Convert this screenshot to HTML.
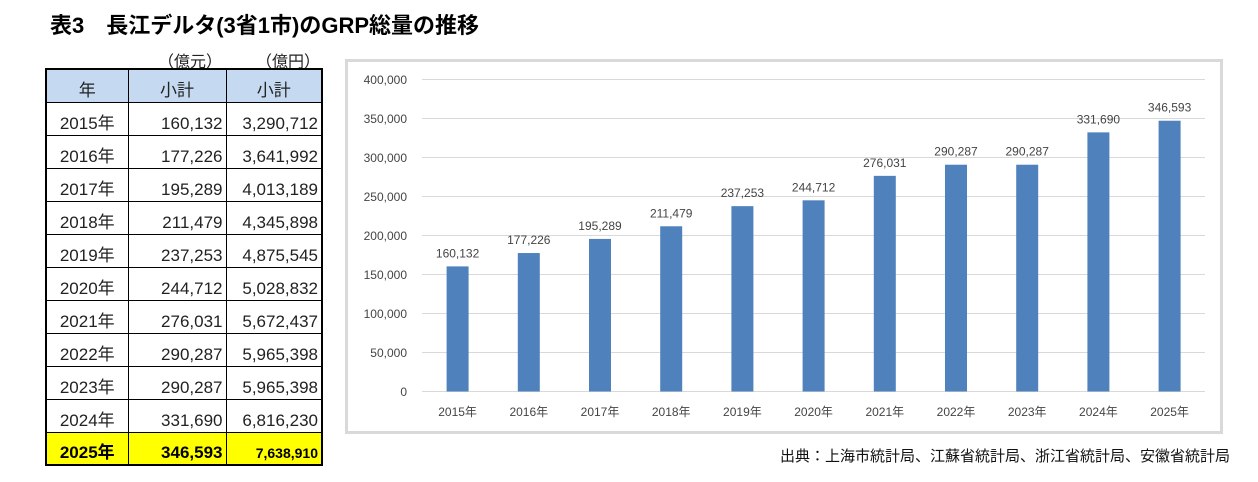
<!DOCTYPE html>
<html><head><meta charset="utf-8"><style>
body{margin:0;width:1258px;height:482px;background:#fff;position:relative;font-family:"Liberation Sans","Noto Sans CJK JP",sans-serif;overflow:hidden}
.t{position:absolute;white-space:nowrap}
table{position:absolute;left:45px;top:68px;border-collapse:collapse;border:2px solid #000;table-layout:fixed}
td{border:1px solid #000;height:33px;padding:0 3px 1px 3px;font-size:17px;color:#222;text-align:right;line-height:20px;vertical-align:bottom;box-sizing:border-box}
td.y{text-align:center}
tr.h td{background:#c5d9f1;text-align:center;height:33px}
tr.last td{background:#ffff00;font-weight:bold;color:#000}
</style></head><body>
<div class="t" style="left:50px;top:8px;font-size:22px;font-weight:bold;">表3　長江デルタ(3省1市)のGRP総量の推移</div>
<div class="t" style="left:158px;top:48px;font-size:16px;color:#222">（億元）</div>
<div class="t" style="left:256px;top:48px;font-size:16px;color:#222">（億円）</div>
<table>
<colgroup><col style="width:82px"><col style="width:98px"><col style="width:96px"></colgroup>
<tr class="h"><td>年</td><td>小計</td><td>小計</td></tr>
<tr><td class="y">2015年</td><td>160,132</td><td>3,290,712</td></tr>
<tr><td class="y">2016年</td><td>177,226</td><td>3,641,992</td></tr>
<tr><td class="y">2017年</td><td>195,289</td><td>4,013,189</td></tr>
<tr><td class="y">2018年</td><td>211,479</td><td>4,345,898</td></tr>
<tr><td class="y">2019年</td><td>237,253</td><td>4,875,545</td></tr>
<tr><td class="y">2020年</td><td>244,712</td><td>5,028,832</td></tr>
<tr><td class="y">2021年</td><td>276,031</td><td>5,672,437</td></tr>
<tr><td class="y">2022年</td><td>290,287</td><td>5,965,398</td></tr>
<tr><td class="y">2023年</td><td>290,287</td><td>5,965,398</td></tr>
<tr><td class="y">2024年</td><td>331,690</td><td>6,816,230</td></tr>
<tr class="last"><td class="y">2025年</td><td>346,593</td><td style="font-size:14px">7,638,910</td></tr>
</table>
<svg style="position:absolute;left:0;top:0" width="1258" height="482" font-family="Liberation Sans, Noto Sans CJK JP, sans-serif">
<rect x="346.5" y="60.5" width="875" height="372" fill="#fff" stroke="#d9d9d9" stroke-width="3"/>
<g stroke="#d9d9d9" stroke-width="1">
<line x1="422" x2="1205" y1="79.5" y2="79.5"/><line x1="422" x2="1205" y1="118.5" y2="118.5"/>
<line x1="422" x2="1205" y1="157.5" y2="157.5"/><line x1="422" x2="1205" y1="196.5" y2="196.5"/>
<line x1="422" x2="1205" y1="235.5" y2="235.5"/><line x1="422" x2="1205" y1="274.5" y2="274.5"/>
<line x1="422" x2="1205" y1="313.5" y2="313.5"/><line x1="422" x2="1205" y1="352.5" y2="352.5"/>
<line x1="422" x2="1205" y1="391.5" y2="391.5"/>
</g>
<g font-size="12" fill="#444" text-anchor="end">
<text x="407" y="84">400,000</text><text x="407" y="123">350,000</text><text x="407" y="162">300,000</text>
<text x="407" y="201">250,000</text><text x="407" y="240">200,000</text><text x="407" y="279">150,000</text>
<text x="407" y="318">100,000</text><text x="407" y="357">50,000</text><text x="407" y="396">0</text>
</g>
<g fill="#4f81bd" id="bars"></g>
<g font-size="12" fill="#444" text-anchor="middle" id="lbl"></g>
</svg>
<div class="t" style="right:28px;top:445px;font-size:15px;color:#111">出典：上海市統計局、江蘇省統計局、浙江省統計局、安徽省統計局</div>
<script>
var v=[160132,177226,195289,211479,237253,244712,276031,290287,290287,331690,346593];
var b=document.getElementById('bars'),l=document.getElementById('lbl');
var bs='',ls='';
v.forEach(function(d,i){var cx=457.6+71.2*i,h=d/400000*312.5,y=391.5-h;
bs+='<rect x="'+(cx-11)+'" y="'+y+'" width="22" height="'+h+'"/>';
ls+='<text x="'+cx+'" y="'+(y-9)+'">'+d.toLocaleString('en-US')+'</text>';
ls+='<text x="'+cx+'" y="416">'+(2015+i)+'年</text>';});
b.innerHTML=bs;l.innerHTML=ls;
</script>
</body></html>
